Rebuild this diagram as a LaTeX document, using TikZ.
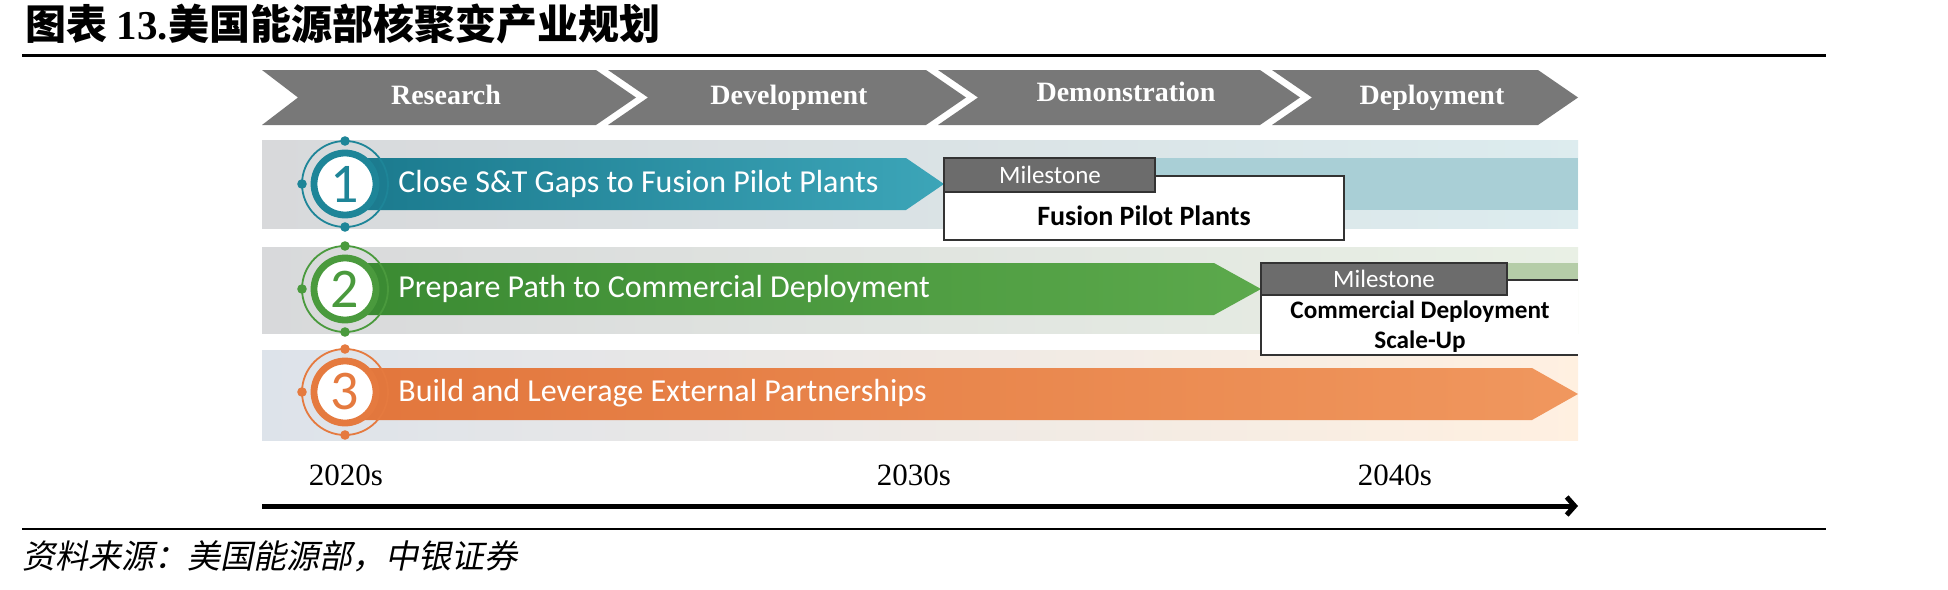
\documentclass[tikz,border=0pt]{standalone}
\usepackage{fontspec}
\setmainfont{Liberation Serif}
\newfontfamily\cjk{Noto Sans CJK SC}
\newfontfamily\cjkit[FakeSlant=0.2]{Noto Sans CJK SC}
\newfontfamily\calib{Carlito}
\usetikzlibrary{arrows.meta}
\definecolor{chevgray}{HTML}{787878}
\definecolor{mshead}{HTML}{6C6C6C}
\definecolor{msline}{HTML}{333333}
\definecolor{tealA}{HTML}{1A798D}
\definecolor{tealB}{HTML}{3CA5B8}
\definecolor{tealN}{HTML}{1E8598}
\definecolor{tealP}{HTML}{A9CFD6}
\definecolor{greenA}{HTML}{3A8A32}
\definecolor{greenB}{HTML}{5CA94C}
\definecolor{greenN}{HTML}{4A9A3D}
\definecolor{greenP}{HTML}{B5CDA8}
\definecolor{orA}{HTML}{E2763C}
\definecolor{orB}{HTML}{F0975E}
\definecolor{orN}{HTML}{E57A3F}
\definecolor{bandA}{HTML}{D8D9DB}
\definecolor{bandC}{HTML}{DDE3EA}
\begin{document}
\begin{tikzpicture}[x=0.5pt,y=-0.5pt,
  chev/.style={fill=chevgray},
  chevtext/.style={font=\fontsize{14}{16}\selectfont\bfseries, text=white, inner sep=0pt, anchor=base},
  rowtext/.style={font=\calib\fontsize{16}{19}\selectfont, text=white, anchor=west, inner sep=0pt},
  numtext/.style={font=\calib\fontsize{28}{30}\selectfont, inner sep=0pt},
  mshdr/.style={fill=mshead, draw=msline, line width=0.8pt},
  msbox/.style={fill=white, draw=msline, line width=0.8pt},
  mshtext/.style={font=\calib\fontsize{12.5}{14}\selectfont, text=white, inner sep=0pt},
  msbtext/.style={font=\calib\bfseries\fontsize{12.6}{15}\selectfont, text=black, inner sep=0pt},
  yeartext/.style={font=\fontsize{15.5}{18}\selectfont, inner sep=0pt},
  band/.style={draw=none}
]
\useasboundingbox (0,0) rectangle (1948,589);
\fill[white] (0,0) rectangle (1948,589);

% title and rules
\node[anchor=west, inner sep=0pt, font=\fontsize{20.5}{24}\selectfont] (title) at (25,24)
  {{\cjk\bfseries 图表 }{\bfseries 13.}{\cjk\bfseries 美国能源部核聚变产业规划}};
\draw[line width=1.5pt] (22,55) -- (1826,55);
\draw[line width=1pt] (22,529) -- (1826,529);
\node[anchor=west, inner sep=0pt, font=\cjkit\fontsize{16.5}{19}\selectfont] (src) at (22,556)
  {资料来源：美国能源部，中银证券};

% chevrons
\fill[chev] (262,70) -- (596,70) -- (636,97.5) -- (596,125) -- (262,125) -- (298,97.5) -- cycle;
\fill[chev] (608,70) -- (926,70) -- (966,97.5) -- (926,125) -- (608,125) -- (648,97.5) -- cycle;
\fill[chev] (938,70) -- (1260,70) -- (1300,97.5) -- (1260,125) -- (938,125) -- (978,97.5) -- cycle;
\fill[chev] (1272,70) -- (1538,70) -- (1578,97.5) -- (1538,125) -- (1272,125) -- (1312,97.5) -- cycle;
\node[chevtext] (ch1) at (446,104) {Research};
\node[chevtext] (ch2) at (789,104) {Development};
\node[chevtext] (ch3) at (1126,101) {Demonstration};
\node[chevtext] (ch4) at (1432,104) {Deployment};

% bands
\shade[band, left color=bandA, right color=tealP!40!white] (262,140) rectangle (1578,228);
\shade[band, left color=bandA, right color=greenP!30!white] (262,247) rectangle (1578,333);
\shade[band, left color=bandC, middle color=bandC!70!white, right color=orange!12!white] (262,350) rectangle (1578,440);

% row 1
\fill[tealP] (944,158) rectangle (1578,210);
\shade[left color=tealA, right color=tealB] (345,158) -- (906,158) -- (944,184) -- (906,210) -- (345,210) -- cycle;
% row 2
\fill[greenP] (1261,263) rectangle (1578,315);
\shade[left color=greenA, right color=greenB] (345,263) -- (1214,263) -- (1261,289) -- (1214,315) -- (345,315) -- cycle;
% row 3
\shade[left color=orA, right color=orB] (345,368) -- (1532,368) -- (1578,394) -- (1532,420) -- (345,420) -- cycle;

% emblems
\foreach \cy/\col/\num/\nm in {184/tealN/1/n1, 289/greenN/2/n2, 392/orN/3/n3}{
  \draw[\col, line width=0.9pt] (345,\cy) circle[radius=21.5pt];
  \fill[\col] (345,\cy) ++(0,-43) circle[radius=2.4pt];
  \fill[\col] (345,\cy) ++(0,43) circle[radius=2.4pt];
  \fill[\col] (345,\cy) ++(-43,0) circle[radius=2.4pt];
  \filldraw[fill=white, draw=\col, line width=3.4pt] (345,\cy) circle[radius=15.5pt];
  \node[numtext, text=\col] (\nm) at (345,\cy) {\num};
}

\node[rowtext] (r1) at (398,184) {Close S\&T Gaps to Fusion Pilot Plants};
\node[rowtext] (r2) at (398,289) {Prepare Path to Commercial Deployment};
\node[rowtext] (r3) at (398,393) {Build and Leverage External Partnerships};

% milestone 1
\filldraw[msbox] (944,176) rectangle (1344,240);
\filldraw[mshdr] (944,158) rectangle (1155,192);
\node[mshtext] (m1h) at (1050,175) {Milestone};
\node[msbtext, font=\calib\bfseries\fontsize{14}{16}\selectfont] (m1b) at (1144,216) {Fusion Pilot Plants};

% milestone 2
\fill[white] (1261,280) rectangle (1578,355);
\draw[msline, line width=0.8pt] (1578,280) -- (1261,280) -- (1261,355) -- (1578,355);
\filldraw[mshdr] (1261,263) rectangle (1507,295);
\node[mshtext] (m2h) at (1384,279) {Milestone};
\node[msbtext] (m2b) at (1420,312) {Commercial Deployment};
\node[msbtext] (m2c) at (1420,342) {Scale-Up};

% timeline
\node[yeartext] (y1) at (346,475) {2020s};
\node[yeartext] (y2) at (914,475) {2030s};
\node[yeartext] (y3) at (1395,475) {2040s};
\coordinate (tl0) at (262,506);
\coordinate (tl1) at (1578,506);
\draw[line width=2.5pt, -{Straight Barb[length=4pt,width=9pt]}] (tl0) -- (tl1);
\end{tikzpicture}
\end{document}
